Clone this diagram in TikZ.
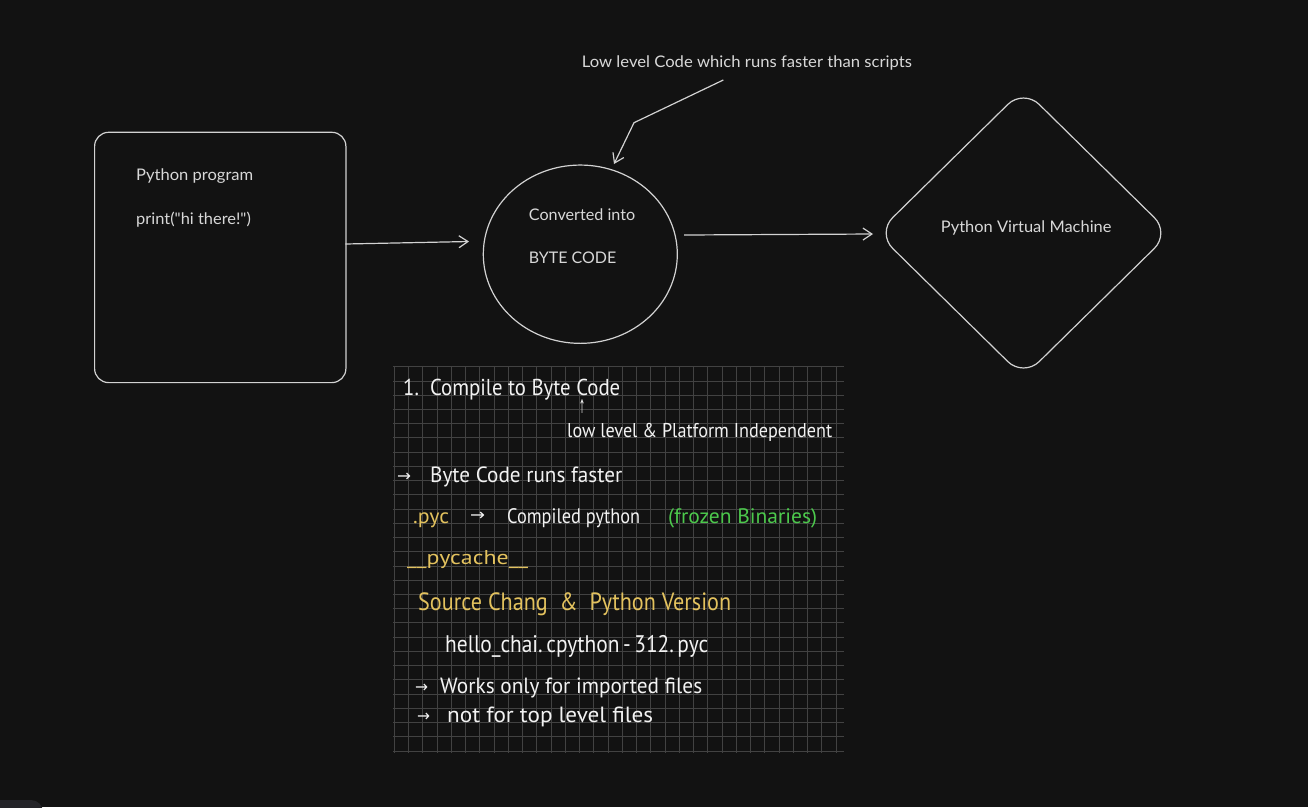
\documentclass[tikz,border=0pt]{standalone}
\usepackage{fontspec}
\usepackage{graphicx}
\setmainfont{Lato}[Ligatures=TeXOff]
\newfontfamily\handfont{PT Sans}
\newfontfamily\symfont{DejaVu Sans}
\usetikzlibrary{arrows.meta,shapes.geometric}
\definecolor{bgcol}{HTML}{121212}
\definecolor{strokecol}{HTML}{D2D2D2}
\definecolor{txtcol}{HTML}{D8D8D8}
\definecolor{gridcol}{HTML}{424242}
\definecolor{hwwhite}{HTML}{F2F2F2}
\definecolor{hwyellow}{HTML}{E3C25E}
\definecolor{hwgreen}{HTML}{4CC94C}
\definecolor{uicol}{HTML}{242428}
\newcommand{\fitw}[2]{\resizebox{#1pt}{\height}{#2}}
\begin{document}
\begin{tikzpicture}[x=1pt,y=-1pt,
  stroke/.style={draw=strokecol, line width=1.2pt},
  arr/.style={stroke, -{Straight Barb[length=9pt,width=12pt]}},
  exc/.style={text=txtcol, font=\fontsize{16}{19}\selectfont, anchor=base west, inner sep=0pt},
  hw/.style={anchor=base west, inner sep=0pt},
  hwarrow/.style={text=hwwhite, inner sep=0pt, anchor=west, font=\symfont\fontsize{16}{18}\selectfont},
  gridline/.style={draw=gridcol, line width=0.8pt}
]
\useasboundingbox (0,0) rectangle (1308,807);
\clip (0,0) rectangle (1308,807);
\fill[bgcol] (0,0) rectangle (1308,807);
\fill[uicol, rounded corners=12pt] (-12,800) rectangle (43,830);

% grid of the handwritten note
\foreach \i in {0,...,31} \draw[gridline] ({394.3+\i*14.25},366) -- ({394.3+\i*14.25},753);
\foreach \j in {0,...,27} \draw[gridline] (393,{366.7+\j*14.23}) -- (844,{366.7+\j*14.23});

% shapes
\node[stroke, rounded corners=14pt, minimum width=251.3pt, minimum height=250.3pt,
      inner sep=0pt, anchor=north west] (prog) at (94,131.7) {};
\node[ellipse, stroke, minimum width=194pt, minimum height=178.3pt, inner sep=0pt] (bc) at (580.3,254.2) {};
\coordinate (dT) at (1023.5,89);
\coordinate (dR) at (1170,233);
\coordinate (dB) at (1023.5,377);
\coordinate (dL) at (877,233);
\coordinate (dM) at (950.25,161);
\draw[stroke, rounded corners=22pt] (dM) -- (dT) -- (dR) -- (dB) -- (dL) -- (dM);

% texts of shapes
\node[exc] (t1) at (136,180.5) {\fitw{117}{Python program}};
\node[exc] (t2) at (136,224) {\fitw{114.7}{print("hi there!")}};
\node[exc] (t3) at (528.7,220) {\fitw{106.3}{Converted into}};
\node[exc] (t4) at (528.7,263.3) {\fitw{87.3}{BYTE CODE}};
\node[exc] (pvm) at (940.7,232.3) {\fitw{170.6}{Python Virtual Machine}};
\node[exc] (ann) at (581.7,67.3) {\fitw{330}{Low level Code which runs faster than scripts}};

% connectors
\coordinate (a1s) at (345.3,244);
\coordinate (a1e) at (469,241.5);
\draw[arr] (a1s) -- (a1e);
\coordinate (a2s) at (684,235);
\coordinate (a2e) at (873,234);
\draw[arr] (a2s) -- (a2e);
\coordinate (e1) at (723.3,80);
\coordinate (e2) at (634,122.7);
\coordinate (e3) at (614,164);
\draw[arr] (e1) -- (e2) -- (e3);

% handwritten note
\node[hw, text=hwwhite, font=\handfont\fontsize{23}{26}\selectfont] (h1) at (403,395) {\fitw{217}{1.\ \ Compile to Byte Code}};
\node[text=hwwhite, inner sep=0pt, font=\symfont\fontsize{19}{21}\selectfont] (h1a) at (582,407) {\resizebox{6pt}{\height}{↑}};
\node[hw, text=hwwhite, font=\handfont\fontsize{20}{24}\selectfont] (h2) at (567,437) {\fitw{265}{low level \& Platform Independent}};
\node[hwarrow] (h3a) at (397,477) {\fitw{14}{→}};
\node[hw, text=hwwhite, font=\handfont\fontsize{22}{26}\selectfont] (h3) at (430,482) {\fitw{192}{Byte Code runs faster}};
\node[hw, text=hwyellow, font=\handfont\fontsize{21}{25}\selectfont] (h4a) at (413,523) {\fitw{36}{.pyc}};
\node[hwarrow] (h4b) at (470,516) {\fitw{15}{→}};
\node[hw, text=hwwhite, font=\handfont\fontsize{21}{25}\selectfont] (h4c) at (507,523) {\fitw{133}{Compiled python}};
\node[hw, text=hwgreen, font=\handfont\fontsize{21}{25}\selectfont] (h4d) at (668,523) {\fitw{149}{(frozen Binaries)}};
\node[hw, text=hwyellow, font=\handfont\fontsize{20}{24}\selectfont] (h5) at (407,564) {\fitw{121}{\_\_pycache\_\_}};
\node[hw, text=hwyellow, font=\handfont\fontsize{25}{29}\selectfont] (h6) at (418,610) {\fitw{313}{Source Chang \ \& \ Python Version}};
\node[hw, text=hwwhite, font=\handfont\fontsize{24}{28}\selectfont] (h7) at (445,652) {\fitw{263}{hello\_chai.\,cpython\,-\,312.\,pyc}};
\node[hwarrow] (h8a) at (415,688) {\fitw{13}{→}};
\node[hw, text=hwwhite, font=\handfont\fontsize{22}{26}\selectfont] (h8) at (440,693) {\fitw{262}{Works only for imported files}};
\node[hwarrow] (h9a) at (417,717) {\fitw{13}{→}};
\node[hw, text=hwwhite, font=\handfont\fontsize{22}{26}\selectfont] (h9) at (447,722) {\fitw{206}{not for top level files}};
\end{tikzpicture}
\end{document}
